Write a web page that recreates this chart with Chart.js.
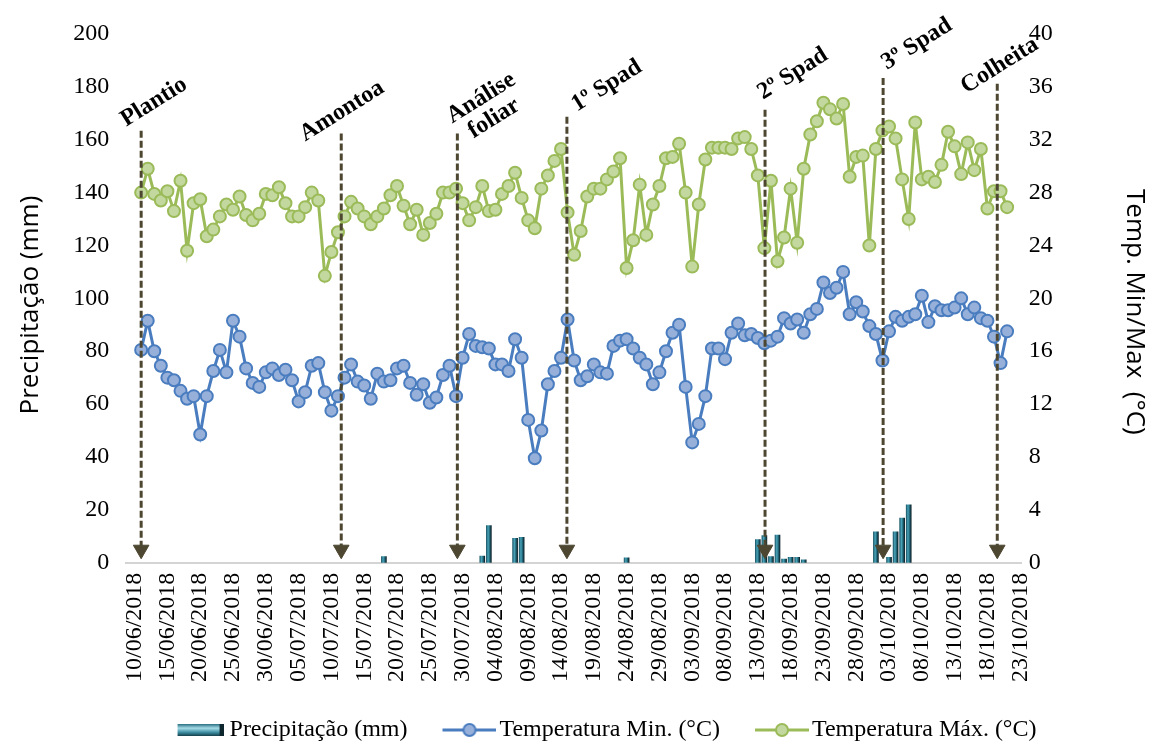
<!DOCTYPE html>
<html>
<head>
<meta charset="utf-8">
<script src="https://cdn.jsdelivr.net/npm/chart.js@4.4.1/dist/chart.umd.min.js"></script>
<style>
  html, body { margin: 0; padding: 0; background: #ffffff; }
  #wrap { width: 1150px; height: 743px; }
</style>
</head>
<body>
<div id="wrap"><canvas id="chart"></canvas></div>
<script>
// Date labels on the horizontal axis, one every 5 days starting 10/06/2018
const tickLabels = [
  '10/06/2018','15/06/2018','20/06/2018','25/06/2018','30/06/2018','05/07/2018',
  '10/07/2018','15/07/2018','20/07/2018','25/07/2018','30/07/2018','04/08/2018',
  '09/08/2018','14/08/2018','19/08/2018','24/08/2018','29/08/2018','03/09/2018',
  '08/09/2018','13/09/2018','18/09/2018','23/09/2018','28/09/2018','03/10/2018',
  '08/10/2018','13/10/2018','18/10/2018','23/10/2018'
];

// Day (counted from 10/06/2018) of the first daily reading
const firstDay = 1;

// Daily maximum temperature (°C)
const tempMax = [
  28.0,29.8,27.9,27.4,28.1,26.6,28.9,23.6,27.2,27.5,
  24.7,25.2,26.2,27.1,26.7,27.7,26.3,25.9,26.4,27.9,
  27.8,28.4,27.2,26.2,26.2,26.9,28.0,27.4,21.7,23.5,
  25.0,26.2,27.3,26.8,26.2,25.6,26.2,26.8,27.8,28.5,
  27.0,25.6,26.7,24.8,25.7,26.4,28.0,28.0,28.3,27.2,
  25.9,26.9,28.5,26.6,26.7,27.9,28.5,29.5,27.6,25.9,
  25.3,28.3,29.3,30.4,31.3,26.5,23.3,25.1,27.7,28.3,
  28.3,29.0,29.6,30.6,22.3,24.4,28.6,24.8,27.1,28.5,
  30.6,30.7,31.7,28.0,22.4,27.1,30.5,31.4,31.4,31.4,
  31.3,32.1,32.2,31.3,29.3,23.8,28.9,22.8,24.6,28.3,
  24.2,29.8,32.4,33.4,34.8,34.3,33.6,34.7,29.2,30.7,
  30.8,24.0,31.3,32.7,33.0,32.1,29.0,26.0,33.3,29.0,
  29.2,28.8,30.1,32.6,31.5,29.4,31.8,29.7,31.3,26.8,
  28.1,28.1,26.9
];

// Daily minimum temperature (°C)
const tempMin = [
  16.1,18.3,16.0,14.9,14.0,13.8,13.0,12.4,12.6,9.7,
  12.6,14.5,16.1,14.4,18.3,17.1,14.7,13.6,13.3,14.4,
  14.7,14.2,14.6,13.8,12.2,12.9,14.9,15.1,12.9,11.5,
  12.6,14.0,15.0,13.7,13.4,12.4,14.3,13.7,13.8,14.7,
  14.9,13.6,12.7,13.5,12.1,12.5,14.2,14.9,12.6,15.5,
  17.3,16.4,16.3,16.2,15.0,15.0,14.5,16.9,15.5,10.8,
  7.9,10.0,13.5,14.5,15.5,18.4,15.3,13.8,14.1,15.0,
  14.4,14.3,16.4,16.8,16.9,16.2,15.5,15.0,13.5,14.4,
  16.0,17.4,18.0,13.3,9.1,10.5,12.6,16.2,16.2,15.4,
  17.4,18.1,17.2,17.3,17.0,16.6,16.8,17.1,18.5,18.1,
  18.4,17.4,18.8,19.2,21.2,20.4,20.8,22.0,18.8,19.7,
  19.0,17.9,17.3,15.3,17.5,18.6,18.3,18.6,18.8,20.2,
  18.2,19.4,19.1,19.1,19.3,20.0,18.8,19.3,18.5,18.3,
  17.1,15.1,17.5
];

// Rainy days (day number from 10/06/2018) and rainfall (mm)
const rainDays = [38, 53, 54, 58, 59, 75, 95, 96, 97, 98, 99, 100, 101, 102, 113, 115, 116, 117, 118];
const rainMm   = [2.3, 2.5, 14, 9.2, 9.6, 1.8, 8.7, 10.2, 2.3, 10.4, 1.4, 2, 2, 1.1, 11.7, 2, 11.7, 16.9, 21.9];

// Crop management events: label lines, day, and top of the marker (left axis units)
const eventLabels = [['Plantio'], ['Amontoa'], ['Análise', 'foliar'], ['1º Spad'], ['2º Spad'], ['3º Spad'], ['Colheita']];
const eventDays   = [1, 31.5, 49.2, 65.9, 96.1, 114.1, 131.5];
const eventTops   = [163.4, 162.4, 162.4, 168.7, 171.3, 183.4, 181.2];
const eventFoot   = 4.9;

// ---- datasets built from the arrays above ----
const toPoints = arr => arr.map((v, i) => ({ x: firstDay + i, y: v }));
const rainPoints = rainDays.map((d, i) => ({ x: d, y: rainMm[i] }));
const arrowPoints = [];
eventDays.forEach((d, i) => {
  arrowPoints.push({ x: d, y: eventTops[i], tip: false });
  arrowPoints.push({ x: d, y: eventFoot, tip: true });
  arrowPoints.push({ x: d, y: null, tip: false });
});

const ARROW = '#4d4731';
const BLUE = '#4a7dbf', BLUE_FILL = '#97b0da';
const GREEN = '#9bbb59', GREEN_FILL = '#c2d89e';

// bar fill: cylinder-like shading across the bar width
function barFill(ctx) {
  const chart = ctx.chart;
  if (!chart.chartArea || !ctx.raw || !chart.scales.x) return '#2a7588';
  const px = chart.scales.x.getPixelForValue(ctx.raw.x);
  const g = chart.ctx.createLinearGradient(px - 2.5, 0, px + 2.5, 0);
  g.addColorStop(0, '#1d5a6b');
  g.addColorStop(0.35, '#4aa5ba');
  g.addColorStop(0.7, '#1e6173');
  g.addColorStop(1, '#0a1d24');
  return g;
}

// legend icons (drawn onto small canvases, shifted right by `shift`)
function makeIcon(kind, w, h, shift) {
  const c = document.createElement('canvas');
  c.width = w + 2 * shift; c.height = h;
  const g = c.getContext('2d');
  const x0 = 2 * shift;
  if (kind === 'bar') {
    const gr = g.createLinearGradient(0, 0, 0, h);
    gr.addColorStop(0, '#2a6f81');
    gr.addColorStop(0.35, '#a6dbe7');
    gr.addColorStop(0.7, '#3d8ea2');
    gr.addColorStop(1, '#163f4b');
    g.fillStyle = gr;
    g.fillRect(x0, 0, w, h);
    g.fillStyle = '#0e262e';
    g.fillRect(x0 + w - 4, 0, 4, h);
  } else {
    const col = kind === 'min' ? BLUE : GREEN;
    const fill = kind === 'min' ? BLUE_FILL : GREEN_FILL;
    g.strokeStyle = col; g.lineWidth = 3;
    g.beginPath(); g.moveTo(x0, h / 2); g.lineTo(x0 + w, h / 2); g.stroke();
    g.beginPath(); g.arc(x0 + w / 2, h / 2, 6, 0, Math.PI * 2);
    g.fillStyle = fill; g.fill(); g.lineWidth = 2; g.strokeStyle = col; g.stroke();
  }
  return c;
}
const iconRain = makeIcon('bar', 46, 12, 9);
const iconMin = makeIcon('min', 54, 16, 8);
const iconMax = makeIcon('max', 54, 16, 8);

// event names, written at an angle above each marker
const eventLabelPlugin = {
  id: 'eventLabels',
  afterDatasetsDraw(chart, args, opts) {
    const { ctx } = chart;
    const xs = chart.scales.x, ys = chart.scales.yL;
    ctx.save();
    ctx.font = 'bold 24px "Liberation Serif"';
    ctx.fillStyle = '#000';
    ctx.textBaseline = 'alphabetic';
    ctx.textAlign = 'left';
    eventLabels.forEach((lines, i) => {
      const px = xs.getPixelForValue(eventDays[i]);
      const py = ys.getPixelForValue(eventTops[i]);
      const off = opts.offsets[i];
      ctx.save();
      ctx.translate(px + off[0], py + off[1]);
      ctx.rotate(-opts.angle * Math.PI / 180);
      const widths = lines.map(t => ctx.measureText(t).width);
      const maxW = Math.max(...widths);
      lines.forEach((t, j) => {
        ctx.fillText(t, (maxW - widths[j]) / 2, j * opts.lineHeight);
      });
      ctx.restore();
    });
    ctx.restore();
  }
};

// moves the legend block after layout
const legendShift = {
  id: 'legendShift',
  afterLayout(chart, args, opts) {
    const lg = chart.legend;
    if (!lg) return;
    lg.left += opts.dx; lg.right += opts.dx;
    lg.top += opts.dy; lg.bottom += opts.dy;
  }
};

Chart.defaults.font.family = '"Liberation Serif", "Times New Roman", serif';
Chart.defaults.color = '#000';

new Chart(document.getElementById('chart'), {
  data: {
    datasets: [
      {
        type: 'bar',
        label: 'Precipitação (mm)',
        data: rainPoints,
        yAxisID: 'yL',
        barThickness: 5,
        backgroundColor: barFill,
        borderWidth: 0,
        order: 3
      },
      {
        type: 'line',
        label: 'Temperatura Min. (°C)',
        data: toPoints(tempMin),
        yAxisID: 'yR',
        borderColor: BLUE,
        borderWidth: 3,
        pointRadius: 6,
        pointBorderWidth: 2,
        pointBackgroundColor: BLUE_FILL,
        pointBorderColor: BLUE,
        tension: 0,
        order: 2
      },
      {
        type: 'line',
        label: 'Temperatura Máx. (°C)',
        data: toPoints(tempMax),
        yAxisID: 'yR',
        borderColor: GREEN,
        borderWidth: 3,
        pointRadius: 6,
        pointBorderWidth: 2,
        pointBackgroundColor: GREEN_FILL,
        pointBorderColor: GREEN,
        tension: 0,
        order: 1
      },
      {
        type: 'line',
        label: 'eventos',
        data: arrowPoints,
        yAxisID: 'yL',
        borderColor: ARROW,
        borderWidth: 3,
        borderDash: [7, 3],
        spanGaps: false,
        pointStyle: 'triangle',
        pointRotation: 180,
        pointRadius: c => (c.raw && c.raw.tip ? 9 : 0),
        pointBorderWidth: 1,
        pointBackgroundColor: ARROW,
        pointBorderColor: ARROW,
        order: 0
      }
    ]
  },
  options: {
    responsive: true,
    maintainAspectRatio: false,
    animation: false,
    events: [],
    layout: { padding: { top: 34, left: 0, right: 0, bottom: -11 } },
    scales: {
      x: {
        type: 'linear',
        offset: false,
        min: -1.28,
        max: 135.24,
        grid: { display: false, drawTicks: false, offset: false },
        border: { display: true, color: '#d4d4d4', width: 2 },
        afterBuildTicks: axis => { axis.ticks = tickLabels.map((_, k) => ({ value: k * 5 })); },
        ticks: {
          autoSkip: false,
          minRotation: 90,
          maxRotation: 90,
          padding: 10,
          font: { size: 24 },
          callback: v => tickLabels[Math.round(v / 5)]
        }
      },
      yL: {
        position: 'left',
        min: 0,
        max: 200,
        grid: { display: false, drawTicks: false },
        border: { display: false },
        ticks: { stepSize: 10, padding: 17, font: { size: 24 } },
        title: {
          display: true,
          text: 'Precipitação (mm)  ',
          font: { family: '"Open Sans"', size: 26 },
          padding: { top: 15, bottom: 10 }
        }
      },
      yR: {
        position: 'right',
        min: 0,
        max: 40,
        grid: { display: false, drawTicks: false },
        border: { display: false },
        ticks: { stepSize: 2, padding: 7, font: { size: 24 } },
        title: {
          display: true,
          text: '    Temp. Min/Max  (°C)',
          font: { family: '"Open Sans"', size: 26 },
          padding: { top: 0, bottom: 59 }
        }
      }
    },
    plugins: {
      tooltip: { enabled: false },
      legend: {
        position: 'bottom',
        labels: {
          usePointStyle: true,
          pointStyleWidth: 52,
          padding: 28,
          font: { size: 24 },
          color: '#000',
          generateLabels: () => [
            { text: 'Precipitação (mm)', pointStyle: iconRain, datasetIndex: 0, hidden: false, lineWidth: 0 },
            { text: 'Temperatura Min. (°C)', pointStyle: iconMin, datasetIndex: 1, hidden: false, lineWidth: 0 },
            { text: 'Temperatura Máx. (°C)', pointStyle: iconMax, datasetIndex: 2, hidden: false, lineWidth: 0 }
          ]
        }
      },
      eventLabels: {
        angle: 32,
        lineHeight: 24,
        offsets: [[-15, -4], [-36, 8], [-5, -10], [10, -5], [-2, -10], [4, -8], [-31, 10]]
      },
      legendShift: { dx: 26, dy: -2 }
    }
  },
  plugins: [eventLabelPlugin, legendShift]
});
</script>
</body>
</html>
